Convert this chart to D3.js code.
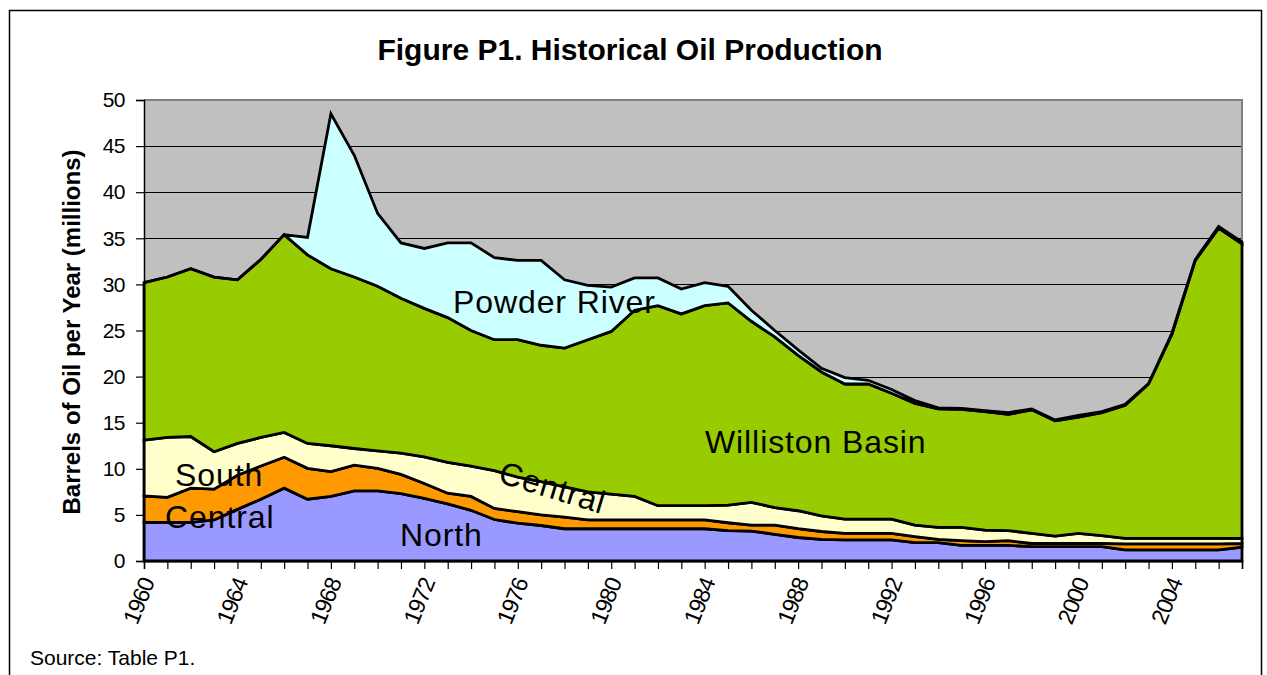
<!DOCTYPE html>
<html lang="en">
<head>
    <meta charset="UTF-8">
    <script src="https://d3js.org/d3.v7.min.js"></script>
    <title>Historical Oil Production</title>
    <style>
        body { margin: 0; background: #fff; }
        text { font-family: "Liberation Sans", Arial, sans-serif; }
    </style>
</head>
<body>
<div id="viz"></div>
<script>
    // data (millions of barrels per year)
    const years = d3.range(1960, 2008);
    const seriesNames = ["North", "Central", "South", "Williston Basin", "Powder River"];
    const north = [4.2, 4.2, 4.2, 4.45, 5.6, 6.7, 7.9, 6.7, 7.0, 7.6,
        7.6, 7.3, 6.8, 6.2, 5.5, 4.5, 4.1, 3.85, 3.5, 3.5,
        3.5, 3.5, 3.5, 3.5, 3.5, 3.3, 3.25, 2.9, 2.55, 2.35,
        2.3, 2.3, 2.3, 2.0, 2.0, 1.7, 1.7, 1.7, 1.55, 1.55,
        1.55, 1.55, 1.2, 1.2, 1.2, 1.2, 1.2, 1.5];
    const central = [2.85, 2.7, 3.7, 3.35, 3.7, 3.6, 3.35, 3.35, 2.7, 2.8,
        2.45, 2.1, 1.6, 1.15, 1.5, 1.2, 1.25, 1.15, 1.25, 0.95,
        0.95, 0.95, 0.95, 0.95, 0.95, 0.85, 0.65, 1.0, 0.95, 0.85,
        0.7, 0.7, 0.7, 0.65, 0.35, 0.5, 0.4, 0.5, 0.35, 0.35,
        0.35, 0.35, 0.65, 0.65, 0.65, 0.65, 0.65, 0.4];
    const south = [6.05, 6.5, 5.6, 4.05, 3.45, 3.1, 2.7, 2.7, 2.8, 1.8,
        1.9, 2.3, 2.9, 3.35, 3.3, 4.1, 3.75, 3.6, 3.3, 3.05,
        2.8, 2.55, 1.55, 1.55, 1.55, 1.9, 2.45, 1.9, 1.95, 1.7,
        1.55, 1.55, 1.55, 1.25, 1.3, 1.45, 1.25, 1.1, 1.1, 0.8,
        1.1, 0.85, 0.6, 0.6, 0.6, 0.6, 0.6, 0.55];
    const williston = [17.1, 17.4, 18.2, 18.95, 17.75, 19.3, 21.45, 20.45, 19.2, 18.6,
        17.85, 16.8, 16.1, 15.7, 14.7, 14.2, 14.9, 14.8, 15.05, 16.5,
        17.65, 20.2, 21.7, 20.8, 21.7, 21.95, 19.65, 18.5, 16.85, 15.6,
        14.65, 14.65, 13.65, 13.2, 12.85, 12.8, 12.85, 12.6, 13.4, 12.5,
        12.6, 13.35, 14.45, 16.75, 22.15, 30.15, 33.65, 31.95];
    const powder = [0, 0, 0, 0, 0, 0, 0, 1.9, 16.8, 13.2,
        7.9, 6.0, 6.5, 8.1, 9.5, 8.9, 8.6, 9.2, 7.4, 5.9,
        4.8, 3.5, 3.0, 2.7, 2.5, 1.8, 1.2, 0.7, 0.6, 0.4,
        0.7, 0.4, 0.4, 0.3, 0.1, 0.1, 0.1, 0.2, 0.1, 0.1,
        0.2, 0.1, 0.1, 0.05, 0.1, 0.1, 0.2, 0.2];
    const yTicks = [0, 5, 10, 15, 20, 25, 30, 35, 40, 45, 50];
    const colors = ["#9999FF", "#FF9900", "#FFFFCC", "#99CC00", "#CCFFFF"];

    const table = years.map((yr, i) => ({
        year: yr,
        "North": north[i],
        "Central": central[i],
        "South": south[i],
        "Williston Basin": williston[i],
        "Powder River": powder[i]
    }));

    const W = 1267, H = 675;
    const plot = {left: 144, right: 1242, top: 100, bottom: 561};

    const svg = d3.select("#viz")
        .append("svg")
        .attr("width", W)
        .attr("height", H);

    // outer chart frame
    svg.append("rect")
        .attr("x", 9.5).attr("y", 10.5)
        .attr("width", 1252).attr("height", 700)
        .attr("fill", "#fff")
        .attr("stroke", "#000")
        .attr("stroke-width", 1.5);

    const x = d3.scaleLinear()
        .domain([1960, 2007])
        .range([plot.left, plot.right]);
    const y = d3.scaleLinear()
        .domain([0, 50])
        .range([plot.bottom, plot.top]);

    // plot background
    svg.append("rect")
        .attr("x", plot.left).attr("y", plot.top)
        .attr("width", plot.right - plot.left)
        .attr("height", plot.bottom - plot.top)
        .attr("fill", "#C0C0C0");

    // gridlines
    svg.append("g")
        .selectAll("line")
        .data(yTicks.filter(d => d > 0 && d < 50))
        .join("line")
        .attr("x1", plot.left).attr("x2", plot.right)
        .attr("y1", d => Math.round(y(d)) + 0.5)
        .attr("y2", d => Math.round(y(d)) + 0.5)
        .attr("stroke", "#000")
        .attr("stroke-width", 1);

    // plot border (top / right)
    svg.append("path")
        .attr("d", `M${plot.left},${plot.top} H${plot.right} V${plot.bottom}`)
        .attr("fill", "none")
        .attr("stroke", "#808080")
        .attr("stroke-width", 2);

    // stacked areas
    const stacked = d3.stack().keys(seriesNames)(table);
    const area = d3.area()
        .x(d => x(d.data.year))
        .y0(d => y(d[0]))
        .y1(d => y(d[1]));

    svg.append("g")
        .selectAll("path")
        .data(stacked)
        .join("path")
        .attr("d", area)
        .attr("fill", (d, i) => colors[i])
        .attr("stroke", "#000")
        .attr("stroke-width", 2.8)
        .attr("stroke-linejoin", "miter");

    // y axis
    const yAxis = svg.append("g")
        .attr("transform", `translate(${plot.left}, 0)`)
        .call(d3.axisLeft(y).tickValues(yTicks).tickSize(8).tickPadding(11));
    yAxis.select(".domain").attr("stroke", "#000").attr("stroke-width", 1.5);
    yAxis.selectAll(".tick line").attr("stroke", "#000").attr("stroke-width", 1.2);
    yAxis.selectAll("text")
        .style("font-family", "'Liberation Sans', Arial, sans-serif")
        .style("font-size", "21px")
        .style("letter-spacing", "-0.5px")
        .attr("fill", "#000");

    // x axis
    const xAxis = svg.append("g")
        .attr("transform", `translate(0, ${plot.bottom})`)
        .call(d3.axisBottom(x)
            .tickValues(years)
            .tickSize(8)
            .tickFormat(d => (d - 1960) % 4 === 0 ? d : ""));
    xAxis.select(".domain").attr("stroke", "#000").attr("stroke-width", 1.5);
    xAxis.selectAll(".tick line").attr("stroke", "#000").attr("stroke-width", 1.2);
    xAxis.selectAll("text")
        .style("font-family", "'Liberation Sans', Arial, sans-serif")
        .style("font-size", "23px")
        .style("letter-spacing", "-1px")
        .attr("fill", "#000")
        .attr("text-anchor", "end")
        .attr("dy", "0.35em")
        .attr("transform", "translate(3, 18) rotate(-68)")
        .attr("y", 0)
        .attr("x", 0);

    // title
    svg.append("text")
        .attr("x", 630).attr("y", 60)
        .attr("text-anchor", "middle")
        .style("font-size", "30px")
        .style("font-weight", "bold")
        .text("Figure P1. Historical Oil Production");

    // y label
    svg.append("text")
        .attr("transform", `translate(80, 332) rotate(-90)`)
        .attr("text-anchor", "middle")
        .style("font-size", "24px")
        .style("font-weight", "bold")
        .text("Barrels of Oil per Year (millions)");

    // series labels
    const labels = [
        {t: "Powder River", x: 453, y: 313, r: 0},
        {t: "Williston Basin", x: 705, y: 453, r: 0},
        {t: "South", x: 175, y: 486, r: 0},
        {t: "Central", x: 165, y: 528, r: 0},
        {t: "North", x: 400, y: 546, r: 0},
        {t: "Central", x: 497, y: 482, r: 17}
    ];
    svg.append("g")
        .selectAll("text")
        .data(labels)
        .join("text")
        .attr("transform", d => `translate(${d.x}, ${d.y}) rotate(${d.r})`)
        .style("font-size", "32px")
        .style("letter-spacing", "0.9px")
        .text(d => d.t);

    // source
    svg.append("text")
        .attr("x", 30).attr("y", 665)
        .style("font-size", "21px")
        .text("Source: Table P1.");
</script>
</body>
</html>
